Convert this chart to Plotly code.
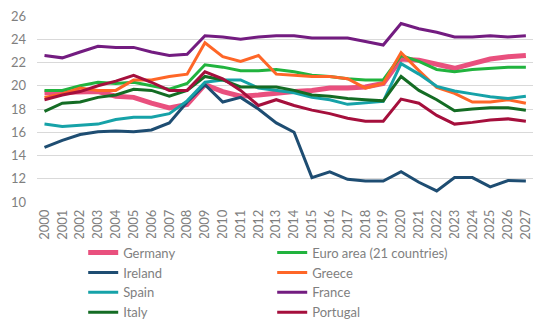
import plotly.graph_objects as go

years = list(range(2000, 2028))

germany = [19.4, 19.4, 19.5, 19.5, 19.1, 19.0, 18.5, 18.1, 18.4, 20.1, 19.5, 19.1, 19.2, 19.4,
           19.5, 19.6, 19.8, 19.8, 19.9, 20.2, 22.3, 22.2, 21.8, 21.5, 21.9, 22.3, 22.5, 22.6]
euro_area = [19.6, 19.6, 20.0, 20.3, 20.2, 20.3, 20.0, 19.7, 20.2, 21.8, 21.6, 21.3, 21.3, 21.4,
             21.2, 20.9, 20.8, 20.6, 20.5, 20.5, 22.6, 22.1, 21.4, 21.2, 21.4, 21.5, 21.6, 21.6]
ireland = [14.7, 15.3, 15.8, 16.05, 16.1, 16.05, 16.2, 16.8, 18.6, 20.1, 18.6, 19.0, 18.0, 16.8,
           16.0, 12.1, 12.6, 11.95, 11.8, 11.8, 12.6, 11.7, 10.95, 12.1, 12.1, 11.3, 11.85, 11.8]
greece = [19.0, 19.3, 19.8, 19.6, 19.6, 20.5, 20.5, 20.8, 21.0, 23.7, 22.5, 22.1, 22.6, 21.0,
          20.9, 20.8, 20.8, 20.6, 19.8, 20.2, 22.85, 21.3, 19.85, 19.35, 18.6, 18.6, 18.8, 18.5]
spain = [16.7, 16.5, 16.6, 16.7, 17.1, 17.3, 17.3, 17.6, 18.7, 20.3, 20.5, 20.5, 19.8, 19.6,
         19.4, 19.0, 18.8, 18.4, 18.5, 18.65, 21.9, 21.0, 19.95, 19.55, 19.3, 19.05, 18.9, 19.1]
france = [22.6, 22.4, 22.9, 23.4, 23.3, 23.3, 22.9, 22.6, 22.7, 24.3, 24.2, 24.0, 24.2, 24.3,
          24.3, 24.1, 24.1, 24.1, 23.8, 23.5, 25.35, 24.9, 24.6, 24.2, 24.2, 24.3, 24.2, 24.3]
italy = [17.8, 18.5, 18.6, 19.0, 19.2, 19.7, 19.6, 19.1, 19.6, 20.8, 20.5, 19.9, 19.9, 19.9,
         19.6, 19.2, 19.1, 18.9, 18.8, 18.7, 20.8, 19.6, 18.8, 17.85, 18.0, 18.1, 18.1, 17.9]
portugal = [18.8, 19.2, 19.5, 20.0, 20.4, 20.9, 20.3, 19.6, 19.6, 21.2, 20.6, 19.6, 18.3, 18.8,
            18.3, 17.9, 17.6, 17.2, 16.95, 16.95, 18.85, 18.5, 17.45, 16.7, 16.85, 17.05, 17.15, 16.95]

# name, values, colour, line width (legend runs row by row in two columns)
series = [
    ("Germany", germany, "#e9507e", 5),
    ("Euro area (21 countries)", euro_area, "#21b33e", 3),
    ("Ireland", ireland, "#1e4d72", 3),
    ("Greece", greece, "#fe6627", 3),
    ("Spain", spain, "#16a2a8", 3),
    ("France", france, "#731c80", 3),
    ("Italy", italy, "#146c24", 3),
    ("Portugal", portugal, "#a50f3c", 3),
]

fig = go.Figure()
for name, vals, color, width in series:
    fig.add_trace(go.Scatter(
        x=years, y=vals, name=name, mode="lines",
        line=dict(color=color, width=width),
    ))

gray = "#7f7f7f"
fig.update_layout(
    width=551, height=330,
    margin=dict(l=37, r=18, t=16, b=128, autoexpand=False),
    paper_bgcolor="white", plot_bgcolor="white",
    font=dict(family="Lato", size=13, color=gray),
    xaxis=dict(
        range=[1999.58, 2027.4],
        tickmode="array", tickvals=years, ticktext=[str(y) for y in years],
        tickangle=-90, showgrid=False, zeroline=False, showline=False,
        ticks="", tickfont=dict(size=13, color=gray), ticklabelstandoff=4,
    ),
    yaxis=dict(
        range=[10, 26], dtick=2, showgrid=True, gridcolor="#d9d9d9", gridwidth=1,
        zeroline=False, showline=False, ticks="", tickfont=dict(size=13, color=gray),
        ticklabelstandoff=10,
    ),
    legend=dict(
        orientation="h", xref="container", yref="container",
        x=0.151, y=0.28, xanchor="left", yanchor="top",
        entrywidth=144, entrywidthmode="pixels", itemwidth=30,
        font=dict(size=13, color=gray), tracegroupgap=0,
    ),
    showlegend=True,
)

fig.write_html("out.html")
